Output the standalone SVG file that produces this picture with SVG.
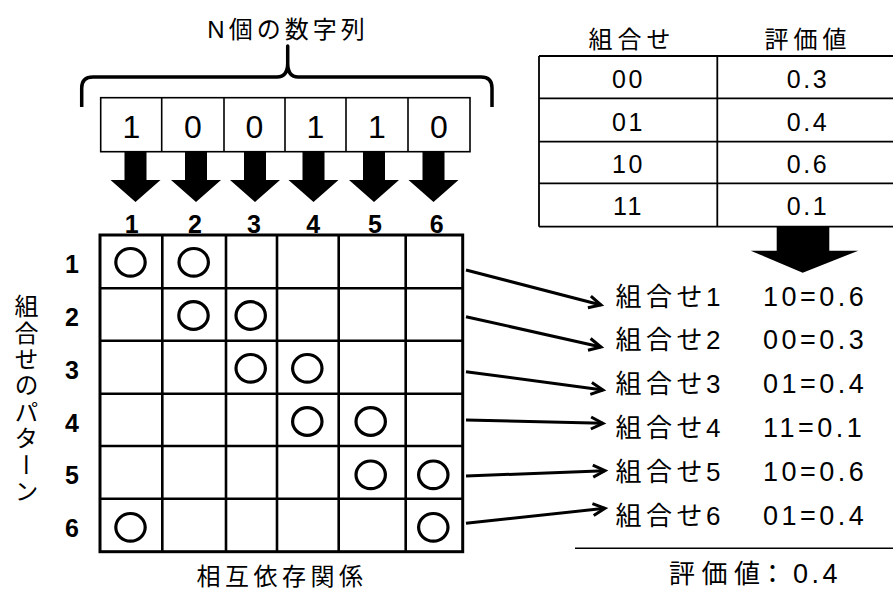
<svg xmlns="http://www.w3.org/2000/svg" width="893" height="590" viewBox="0 0 893 590">
<style>
text{fill:#000}
.jp{font-family:"Liberation Sans","Noto Sans CJK JP",sans-serif}
.num{font-family:"Liberation Sans",Arial,sans-serif}
.b{font-weight:bold}
.ln{stroke:#000;fill:none}
.cir{fill:none;stroke:#000;stroke-width:3.2}
.conn{stroke:#000;stroke-width:3;fill:none;marker-end:url(#chev)}
.lab{font-size:26px}
.val{font-size:27px;letter-spacing:3.5px}
</style>
<defs>
<marker id="chev" markerUnits="userSpaceOnUse" markerWidth="16" markerHeight="16" refX="13" refY="7" orient="auto" overflow="visible">
<path d="M1,1 L13,7 L1,13" fill="none" stroke="#000" stroke-width="3" stroke-linejoin="miter"/>
</marker>
<polygon id="dn" points="-11,0 11,0 11,28 25,28 0,50 -25,28 -11,28" fill="#000"/>
</defs>
<rect width="893" height="590" fill="#fff"/>

<g id="title">
<text class="jp" x="288" y="37.5" font-size="24" letter-spacing="4" text-anchor="middle">N個の数字列</text>
</g>
<g id="brace">
<path class="ln" stroke-width="3.5" stroke-linejoin="round" d="M81.7,107 V88 Q81.7,77 93,77 H277 Q287.7,77 287.7,63 V46 V63 Q287.7,77 298,77 H481 Q492,77 492,88 V107"/>
</g>

<g id="sequence">
<rect class="ln" stroke-width="1.6" x="100.7" y="97.7" width="369.3" height="54"/>
<path class="ln" stroke-width="1.6" d="M161.7,97.7V151.7M224,97.7V151.7M285,97.7V151.7M346,97.7V151.7M408,97.7V151.7"/>
<g class="num" font-size="32" text-anchor="middle">
<text x="131.5" y="138.3">1</text>
<text x="193" y="138.3">0</text>
<text x="254.5" y="138.3">0</text>
<text x="315.5" y="138.3">1</text>
<text x="377" y="138.3">1</text>
<text x="439" y="138.3">0</text>
</g>
</g>

<g id="down-arrows">
<use href="#dn" x="135.5" y="152"/>
<use href="#dn" x="196" y="152"/>
<use href="#dn" x="255" y="152"/>
<use href="#dn" x="313.5" y="152"/>
<use href="#dn" x="374" y="152"/>
<use href="#dn" x="433.5" y="152"/>
</g>

<g id="col-numbers" class="num b" font-size="25" text-anchor="middle">
<text x="131.7" y="233">1</text>
<text x="195" y="233">2</text>
<text x="254" y="233">3</text>
<text x="313.3" y="233">4</text>
<text x="375" y="233">5</text>
<text x="436.7" y="233">6</text>
</g>

<g id="row-numbers" class="num b" font-size="25" text-anchor="middle">
<text x="72" y="273">1</text>
<text x="72" y="326">2</text>
<text x="72" y="378.5">3</text>
<text x="72" y="431.5">4</text>
<text x="72" y="484">5</text>
<text x="72" y="536.5">6</text>
</g>

<g id="grid">
<rect class="ln" stroke-width="3" x="100" y="235" width="362.7" height="316.7"/>
<path class="ln" stroke-width="2.6" d="M162.3,235V551.7M226,235V551.7M277,235V551.7M338.7,235V551.7M405.7,235V551.7M100,288.3H462.7M100,340.7H462.7M100,393.7H462.7M100,446H462.7M100,498.7H462.7"/>
<ellipse class="cir" cx="130.5" cy="262.3" rx="14.7" ry="13.8"/>
<ellipse class="cir" cx="193.7" cy="262.3" rx="14.7" ry="13.8"/>
<ellipse class="cir" cx="193.5" cy="315.5" rx="14.7" ry="13.8"/>
<ellipse class="cir" cx="250.7" cy="315.5" rx="14.7" ry="13.8"/>
<ellipse class="cir" cx="250.7" cy="368.3" rx="14.7" ry="13.8"/>
<ellipse class="cir" cx="307.3" cy="368.3" rx="14.7" ry="13.8"/>
<ellipse class="cir" cx="307.3" cy="421.5" rx="14.7" ry="13.8"/>
<ellipse class="cir" cx="370.7" cy="421.5" rx="14.7" ry="13.8"/>
<ellipse class="cir" cx="370.7" cy="474.8" rx="14.7" ry="13.8"/>
<ellipse class="cir" cx="433.3" cy="474.8" rx="14.7" ry="13.8"/>
<ellipse class="cir" cx="130.5" cy="527.3" rx="14.7" ry="13.8"/>
<ellipse class="cir" cx="433.3" cy="527.3" rx="14.7" ry="13.8"/>
</g>

<g id="row-label">
<text class="jp" x="24.5" y="294" font-size="24" letter-spacing="2.4" writing-mode="vertical-rl">組合せのパターン</text>
</g>
<g id="col-label">
<text class="jp" x="282" y="584.5" font-size="24" letter-spacing="4.5" text-anchor="middle">相互依存関係</text>
</g>

<g id="table">
<path class="ln" stroke-width="1.8" d="M539,56H893M539,98.3H893M539,141.7H893M539,183.3H893M539,226.7H893M539,56V226.7M717.3,56V226.7"/>
<g class="jp" font-size="24" letter-spacing="5" text-anchor="middle">
<text x="632" y="48">組合せ</text>
<text x="808" y="48">評価値</text>
</g>
<g class="num" font-size="25" letter-spacing="2.5" text-anchor="middle">
<text x="628.5" y="88">00</text><text x="808" y="88">0.3</text>
<text x="628.5" y="130.5">01</text><text x="808" y="130.5">0.4</text>
<text x="628.5" y="172.8">10</text><text x="808" y="172.8">0.6</text>
<text x="628.5" y="214.8">11</text><text x="808" y="214.8">0.1</text>
</g>
</g>

<g id="big-arrow">
<polygon fill="#000" points="776.7,226.7 829.3,226.7 829.3,250.7 858.3,250.7 802.7,272.7 750.7,250.7 776.7,250.7"/>
</g>

<g id="connectors">
<line class="conn" x1="466" y1="270" x2="601" y2="305"/>
<line class="conn" x1="466" y1="316.7" x2="601" y2="347"/>
<line class="conn" x1="466" y1="371.7" x2="603" y2="390"/>
<line class="conn" x1="466" y1="420" x2="603" y2="423.3"/>
<line class="conn" x1="466" y1="476" x2="605" y2="470.7"/>
<line class="conn" x1="466" y1="523.3" x2="605" y2="508.3"/>
</g>

<g id="list" class="jp">
<g id="item1"><text y="306"><tspan class="lab" x="615.5 646 676.5 706">組合せ1</tspan><tspan class="val" x="750 763">&#160;10=0.6</tspan></text></g>
<g id="item2"><text y="348.5"><tspan class="lab" x="615.5 646 676.5 706">組合せ2</tspan><tspan class="val" x="750 763">&#160;00=0.3</tspan></text></g>
<g id="item3"><text y="392.5"><tspan class="lab" x="615.5 646 676.5 706">組合せ3</tspan><tspan class="val" x="750 763">&#160;01=0.4</tspan></text></g>
<g id="item4"><text y="436.5"><tspan class="lab" x="615.5 646 676.5 706">組合せ4</tspan><tspan class="val" x="750 763">&#160;11=0.1</tspan></text></g>
<g id="item5"><text y="480.5"><tspan class="lab" x="615.5 646 676.5 706">組合せ5</tspan><tspan class="val" x="750 763">&#160;10=0.6</tspan></text></g>
<g id="item6"><text y="524.5"><tspan class="lab" x="615.5 646 676.5 706">組合せ6</tspan><tspan class="val" x="750 763">&#160;01=0.4</tspan></text></g>
</g>

<g id="result">
<line class="ln" stroke-width="1.6" x1="575" y1="548.3" x2="893" y2="548.3"/>
<text class="jp" y="583.3" font-size="26"><tspan x="669 701.5 734 759.5">評価値：</tspan><tspan font-size="27" letter-spacing="3.5" x="793">0.4</tspan></text>
</g>
</svg>
